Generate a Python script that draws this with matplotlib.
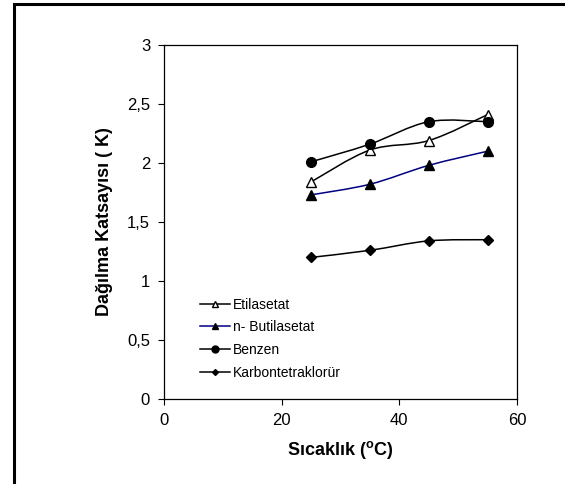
import numpy as np
import matplotlib.pyplot as plt
from matplotlib.path import Path
from matplotlib.patches import PathPatch, Rectangle
from matplotlib.lines import Line2D

plt.rcParams['font.family'] = ['Liberation Sans', 'DejaVu Sans']

sicaklik = [25, 35, 45, 55]
etilasetat = [1.84, 2.11, 2.19, 2.41]
butilasetat = [1.73, 1.82, 1.98, 2.10]
benzen = [2.01, 2.16, 2.35, 2.35]
karbon = [1.20, 1.26, 1.34, 1.35]

series_names = ['Etilasetat', 'n- Butilasetat', 'Benzen', 'Karbontetraklorür']


# excel-like smoothed line: bezier segments built from the points
def smooth_path(x, y):
    p = np.column_stack([x, y]).astype(float)
    n = len(p)
    verts = [p[0]]
    codes = [Path.MOVETO]
    for i in range(n - 1):
        p0 = p[i - 1] if i > 0 else p[i]
        p3 = p[i + 2] if i + 2 < n else p[i + 1]
        c1 = p[i] + (p[i + 1] - p0) / 6
        c2 = p[i + 1] - (p3 - p[i]) / 6
        verts += [c1, c2, p[i + 1]]
        codes += [Path.CURVE4] * 3
    return Path(verts, codes)


fig = plt.figure(figsize=(5.65, 4.84), dpi=100)
fig.patches.append(Rectangle((14 / 565, -0.1), 1.2, 1 - 4 / 484 + 0.1, transform=fig.transFigure,
                             fill=False, edgecolor='black', linewidth=2.2))
ax = fig.add_axes([164 / 565, 1 - 399 / 484, 353 / 565, 354 / 484])

styles = [
    (etilasetat, 'black', dict(marker='^', markerfacecolor='white', markeredgecolor='black', markersize=7)),
    (butilasetat, '#000080', dict(marker='^', markerfacecolor='black', markeredgecolor='black', markersize=7)),
    (benzen, 'black', dict(marker='o', markerfacecolor='black', markeredgecolor='black', markersize=7)),
    (karbon, 'black', dict(marker='D', markerfacecolor='black', markeredgecolor='black', markersize=5)),
]

handles = []
for (vals, col, mk), name in zip(styles, series_names):
    ax.add_patch(PathPatch(smooth_path(sicaklik, vals), facecolor='none', edgecolor=col, linewidth=1.1, zorder=2))
    ax.plot(sicaklik, vals, linestyle='none', zorder=3, **mk)
    handles.append(Line2D([], [], color=col, linewidth=1.1, label=name,
                          **{**mk, 'markersize': mk['markersize'] - 2}))

ax.set_xlim(0, 60)
ax.set_ylim(0, 3)
ax.set_xticks([0, 20, 40, 60])
ax.set_yticks([0, 0.5, 1, 1.5, 2, 2.5, 3])
ax.set_yticklabels(['0', '0,5', '1', '1,5', '2', '2,5', '3'])
ax.tick_params(direction='out', length=4, width=0.8, labelsize=12, pad=6)
for s in ax.spines.values():
    s.set_linewidth(0.9)

ax.set_xlabel('Sıcaklık ($^{\\mathregular{o}}$C)', fontsize=13, fontweight='bold', labelpad=8)
ax.set_ylabel('Dağılma Katsayısı ( K)', fontsize=13, fontweight='bold', labelpad=10)

ax.legend(handles=handles, loc='lower left', bbox_to_anchor=(0.102, 0.055), frameon=False,
          fontsize=10, handlelength=2.15, handletextpad=0.2, labelspacing=0.62,
          borderaxespad=0, borderpad=0)

fig.savefig('out.png', dpi=100)
